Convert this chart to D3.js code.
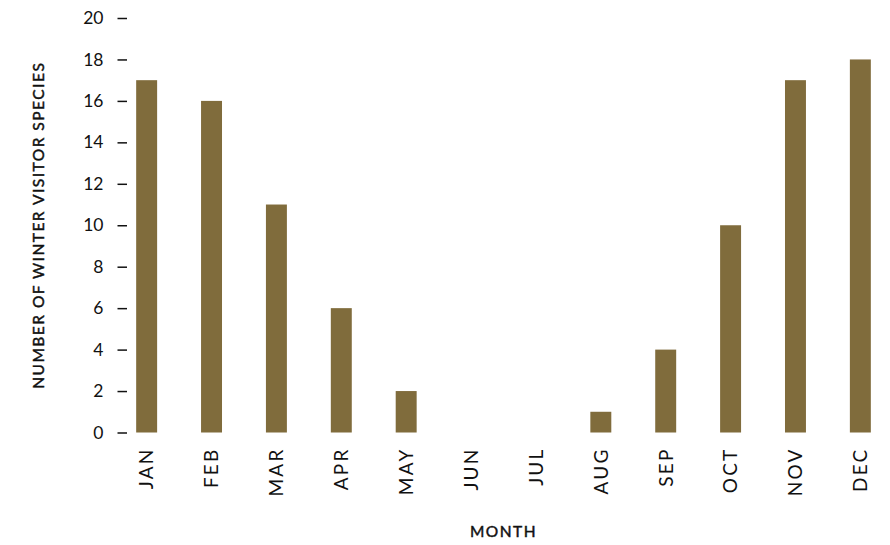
<!DOCTYPE html>
<html>
<head>
<meta charset="utf-8">
<script src="https://cdn.jsdelivr.net/npm/d3@7"></script>
<style>
  html, body { margin: 0; padding: 0; background: #fff; }
  svg { display: block; font-family: Lato, "Open Sans", sans-serif; }
</style>
</head>
<body>
<svg id="chart" width="890" height="545"></svg>
<script>
// Winter visitor species counted per month
const months = ["JAN", "FEB", "MAR", "APR", "MAY", "JUN", "JUL", "AUG", "SEP", "OCT", "NOV", "DEC"];
const species = [17, 16, 11, 6, 2, 0, 0, 1, 4, 10, 17, 18];
const yTicks = [0, 2, 4, 6, 8, 10, 12, 14, 16, 18, 20];

const barColor = "#806c3c";
const svg = d3.select("#chart");

const x = d3.scaleBand()
  .domain(months)
  .range([118, 889])
  .paddingInner(0.677)
  .paddingOuter(0.28);

const y = d3.scaleLinear()
  .domain([0, 20])
  .range([432.5, 18]);

// Bars
svg.append("g")
  .selectAll("rect")
  .data(months.map((m, i) => ({ month: m, value: species[i] })))
  .join("rect")
  .attr("x", d => x(d.month))
  .attr("width", x.bandwidth())
  .attr("y", d => y(d.value))
  .attr("height", d => y(0) - y(d.value))
  .attr("fill", barColor);

// Y axis: short tick dashes, no domain line
const yAxis = svg.append("g")
  .attr("transform", "translate(127,0)")
  .call(d3.axisLeft(y).tickValues(yTicks).tickSize(9.5).tickPadding(14));
yAxis.select(".domain").remove();
yAxis.selectAll(".tick line").attr("stroke", "#111").attr("stroke-width", 1.5);
yAxis.selectAll(".tick text")
  .attr("fill", "#111")
  .style("font-size", "17.5px")
  .style("font-family", "Lato, sans-serif");

// X axis: rotated month labels, no ticks or domain line
const xAxis = svg.append("g")
  .attr("transform", `translate(0,${y(0)})`)
  .call(d3.axisBottom(x).tickSize(0).tickPadding(0));
xAxis.select(".domain").remove();
xAxis.selectAll(".tick text")
  .attr("fill", "#111")
  .attr("transform", "rotate(-90)")
  .attr("text-anchor", "end")
  .attr("x", -15)
  .attr("y", 0)
  .attr("dy", "0.36em")
  .style("font-size", "19px")
  .style("letter-spacing", "2.2px")
  .style("font-family", "Lato, sans-serif");

// Axis titles (medium weight: regular face with a thin outline)
const titleStyle = sel => sel
  .attr("text-anchor", "middle")
  .attr("fill", "#111")
  .attr("stroke", "#111")
  .attr("stroke-width", 0.45)
  .style("font-size", "15.5px")
  .style("letter-spacing", "1.5px");

svg.append("text")
  .attr("transform", `translate(43.5,${(18 + 432.5) / 2}) rotate(-90)`)
  .call(titleStyle)
  .text("NUMBER OF WINTER VISITOR SPECIES");

svg.append("text")
  .attr("x", 503.5)
  .attr("y", 536.5)
  .call(titleStyle)
  .text("MONTH");
</script>
</body>
</html>
